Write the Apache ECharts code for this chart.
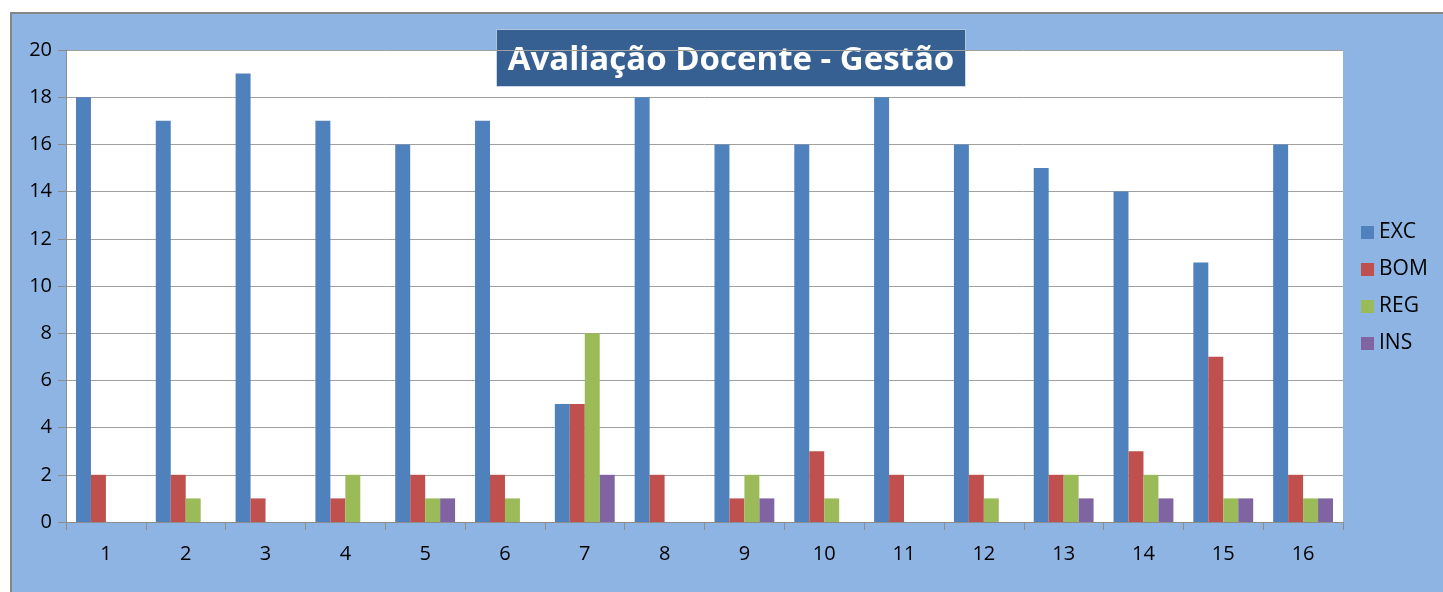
<html>
<meta charset="utf-8">
<body style="margin:0;background:#fff;">
    <div id="main" style="position:absolute;left:10px;top:12px;width:1433px;height:580px;border-left:2px solid #868686;border-top:2px solid #868686;background:#8eb4e3;"></div>
</body>
</html>
<script type="text/javascript" src="https://cdn.jsdelivr.net/npm/echarts@6/dist/echarts.min.js"></script>
<script type="text/javascript">

var categorias = ['1','2','3','4','5','6','7','8','9','10','11','12','13','14','15','16'];
var exc = [18,17,19,17,16,17,5,18,16,16,18,16,15,14,11,16];
var bom = [2,2,1,1,2,2,5,2,1,3,2,2,2,3,7,2];
var reg = [0,1,0,2,1,1,8,0,2,1,0,1,2,2,1,1];
var ins = [0,0,0,0,1,0,2,0,1,0,0,0,1,1,1,1];
var titulo = 'Avaliação Docente - Gestão';

function serie(nome, dados, cor) {
    return {
        name: nome,
        type: 'bar',
        data: dados,
        barGap: '0%',
        barCategoryGap: '25%',
        itemStyle: { color: cor }
    };
}

var myChart = echarts.init(document.getElementById('main'));
var fonte = '"Open Sans", "Noto Sans", sans-serif';
var option = {
    animation: false,
    textStyle: { fontFamily: fonte },
    grid: { left: 54, top: 36, right: 102, bottom: 72, show: true, backgroundColor: '#fff', borderWidth: 0 },
    legend: {
        orient: 'vertical',
        left: 1344,
        top: 203,
        itemWidth: 13,
        itemHeight: 13,
        itemGap: 16,
        icon: 'rect',
        textStyle: { fontSize: 21, color: '#000', fontFamily: fonte },
        data: ['EXC','BOM','REG','INS']
    },
    graphic: [{
        type: 'group',
        left: 484,
        top: 15,
        z: 100,
        children: [{
            type: 'rect',
            shape: { x: 0, y: 0, width: 469, height: 57 },
            style: { fill: '#376092', stroke: 'rgba(255,255,255,0.5)', lineWidth: 1 }
        }, {
            type: 'text',
            x: 234.5,
            y: 31,
            style: { text: titulo, fill: '#fff', font: 'bold 33px ' + fonte, align: 'center', verticalAlign: 'middle' }
        }]
    }],
    xAxis: {
        type: 'category',
        data: categorias,
        axisLine: { lineStyle: { color: '#8c8c8c', width: 1 } },
        axisTick: { show: true, length: 8, lineStyle: { color: '#8c8c8c' } },
        axisLabel: { fontSize: 20, color: '#000', margin: 22 }
    },
    yAxis: {
        type: 'value',
        min: 0,
        max: 20,
        interval: 2,
        axisLine: { show: true, lineStyle: { color: '#8c8c8c' } },
        axisTick: { show: true, length: 8, lineStyle: { color: '#8c8c8c' } },
        axisLabel: { fontSize: 20, color: '#000', margin: 14 },
        splitLine: { lineStyle: { color: '#a0a0a0', width: 1 } }
    },
    series: [
        serie('EXC', exc, '#4f81bd'),
        serie('BOM', bom, '#c0504d'),
        serie('REG', reg, '#9bbb59'),
        serie('INS', ins, '#8064a2')
    ]
};
myChart.setOption(option);
</script>
